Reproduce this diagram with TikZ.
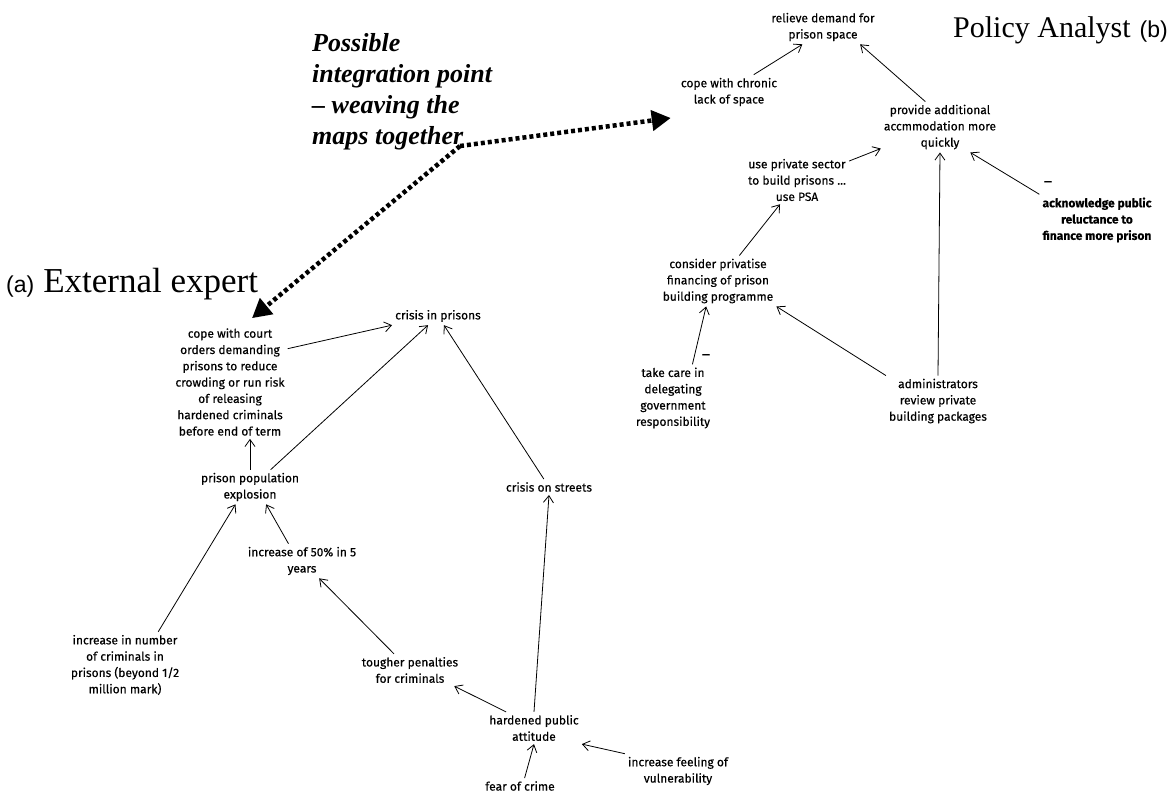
\documentclass[tikz,border=0pt]{standalone}
\usepackage{fontspec}
\usetikzlibrary{arrows.meta}
\newfontfamily\mapfont[FakeBold=0.4]{Fira Sans}
\newfontfamily\headfont{Liberation Serif}
\newfontfamily\labfont{Liberation Sans}

\begin{document}
\begin{tikzpicture}[
                x=1pt,
                y=-1pt,
                >={Straight Barb[length=7pt,width=10pt]},
                concept/.style={align=center, inner sep=3pt,
                    font=\mapfont\fontsize{12}{16.3}\selectfont},
                link/.style={->, line width=0.8pt},
                weave/.style={-{Triangle[length=19pt,width=20pt]}, line width=4.5pt,
                    dash pattern=on 4pt off 3pt},
                minus/.style={inner sep=0pt, font=\mapfont\fontsize{16}{16}\selectfont}
            ]

            \useasboundingbox (0,0) rectangle (1176,793);

            % titles
            \node[anchor=base east, inner sep=0pt] (analyst) at (1168,37)
                {{\headfont\fontsize{30}{32}\selectfont Policy Analyst}\hspace{9pt}{\labfont\fontsize{23}{26}\selectfont (b)}};
            \node[anchor=base west, inner sep=0pt] (expert) at (6,292)
                {{\labfont\fontsize{23}{26}\selectfont (a)}\hspace{9pt}{\headfont\fontsize{35}{36}\selectfont External expert}};
            \node[anchor=north west, align=left, inner sep=0pt,
                font=\headfont\bfseries\itshape\fontsize{26}{31}\selectfont] (note) at (312,33)
                {Possible\\integration point\\– weaving the\\maps together};
            \coordinate (weavept) at (460,146);

            % policy analyst map
            \node[concept] (relieve) at (823,27) {relieve demand for\\prison space};
            \node[concept] (chronic) at (729,92) {cope with chronic\\lack of space};
            \node[concept] (provide) at (940,127) {provide additional\\accmmodation more\\quickly};
            \node[concept] (private) at (797,180) {use private sector\\to build prisons ...\\use PSA};
            \node[concept, font=\mapfont\bfseries\fontsize{12}{16.3}\selectfont] (acknowledge) at (1097,220)
                {acknowledge public\\reluctance to\\finance more prison};
            \node[concept] (consider) at (718,281) {consider privatise\\financing of prison\\building programme};
            \node[concept] (takecare) at (673,398) {take care in\\delegating\\government\\responsibility};
            \node[concept] (admin) at (938,401) {administrators\\review private\\building packages};
            \node[minus] (minusa) at (706,357) {–};
            \node[minus] (minusb) at (1048,184) {–};

            \draw[link] (chronic.35) -- (relieve.-140);
            \draw[link] (provide.120) -- (relieve.-25);
            \draw[link] (private.20) -- (provide.200);
            \draw[link] (acknowledge.north west) -- (provide.-40);
            \draw[link] (admin.north) -- (provide.south);
            \draw[link] (consider.50) -- (private.-125);
            \draw[link] (takecare.60) -- (consider.-115);
            \draw[link] (admin.north west) -- (consider.south east);

            % external expert map
            \node[concept] (court) at (230,382) {cope with court\\orders demanding\\prisons to reduce\\crowding or run risk\\of releasing\\hardened criminals\\before end of term};
            \node[concept] (crisisprison) at (438,316) {crisis in prisons};
            \node[concept] (prisonpop) at (250,487) {prison population\\explosion};
            \node[concept] (crisisstreet) at (549,487) {crisis on streets};
            \node[concept] (fifty) at (302,561) {increase of 50\% in 5\\years};
            \node[concept] (number) at (125,665) {increase in number\\of criminals in\\prisons (beyond 1/2\\million mark)};
            \node[concept] (tougher) at (410,670) {tougher penalties\\for criminals};
            \node[concept] (hardened) at (534,728) {hardened public\\attitude};
            \node[concept] (feeling) at (678,771) {increase feeling of\\vulnerability};
            \node[concept] (fear) at (520,786) {fear of crime};

            \draw[link] (court.30) -- (crisisprison.south west);
            \draw[link] (prisonpop.40) -- (crisisprison);
            \draw[link] (crisisstreet) -- (crisisprison);
            \draw[link] (prisonpop.north) -- (prisonpop.north |- court.south);
            \draw[link] (number.45) -- (prisonpop.-130);
            \draw[link] (fifty.128) -- (prisonpop.-47);
            \draw[link] (tougher) -- (fifty);
            \draw[link] (hardened.150) -- (tougher.-20);
            \draw[link] (hardened.north) -- (crisisstreet.south);
            \draw[link] (feeling.north west) -- (hardened.south east);
            \draw[link] (fear.60) -- (hardened.south);

            % weaving the two maps together
            \draw[weave] (weavept) -- ([shift={(-7,26)}]chronic.west);
            \draw[weave] (weavept) -- ([shift={(22,-7)}]court.north);

            \end{tikzpicture}
\end{document}
